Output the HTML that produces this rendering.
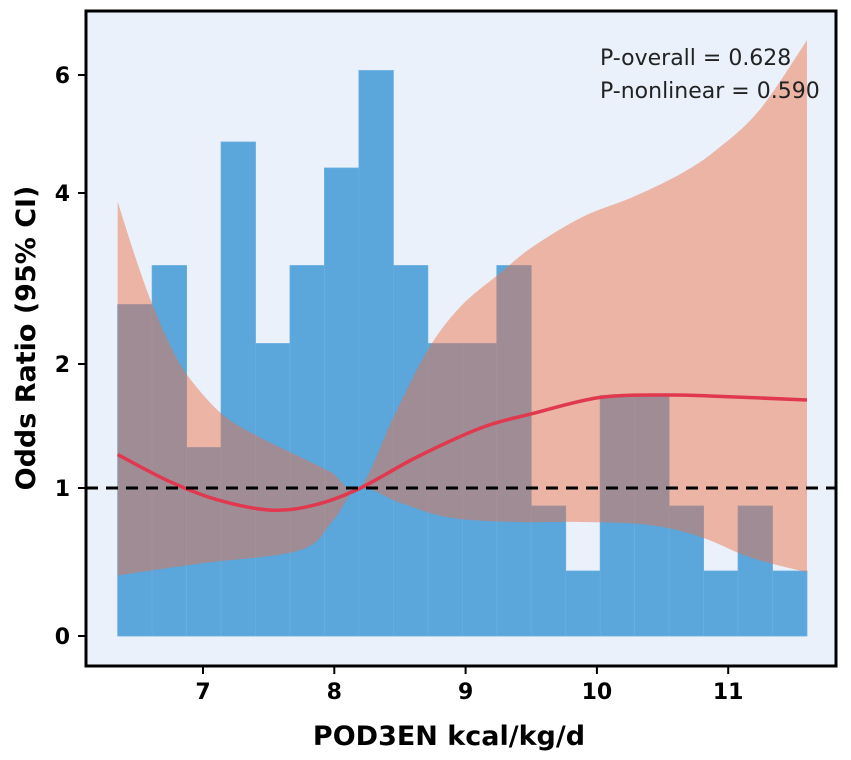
<!DOCTYPE html>
<html><head><meta charset="utf-8"><style>
html,body{margin:0;padding:0;background:#fff;}
svg{display:block;font-family:"DejaVu Sans","Liberation Sans",sans-serif;}
</style></head><body>
<svg id="chart" width="851" height="760">
<rect x="86" y="11" width="750" height="655" fill="#eaf1fa"/>
<g id="bars"></g><g id="band"></g><g id="line"></g>
<line x1="86" x2="836" y1="488" y2="488" stroke="#000" stroke-width="3" stroke-dasharray="12,8" id="refline"/>
<rect x="86" y="11" width="750" height="655" fill="none" stroke="#000" stroke-width="3"/>
<g id="axes"></g>
<text x="600" y="65" font-size="22" fill="#222">P-overall = 0.628</text>
<text x="600" y="98" font-size="22" fill="#222">P-nonlinear = 0.590</text>
<text x="449" y="745" font-size="27" font-weight="bold" text-anchor="middle">POD3EN kcal/kg/d</text>
<text transform="translate(35,338) rotate(-90)" font-size="27" font-weight="bold" text-anchor="middle">Odds Ratio (95% CI)</text>
</svg>
<script>
const binStart=[6.35,6.6125,6.875,7.1375,7.4,7.6625,7.925,8.1875,8.45,8.7125,8.975,9.2375,9.5,9.7625,10.025,10.2875,10.55,10.8125,11.075,11.3375];
const binCounts=[5.1,5.7,2.9,7.6,4.5,5.7,7.2,8.7,5.7,4.5,4.5,5.7,2,1,3.7,3.7,2,1,2,1];
const binWidth=0.2625;
const curveX=[6.35,6.73,7.11,7.53,7.87,8.20,8.63,9.13,9.51,10.02,10.53,10.91,11.6];
const curveOR=[1.27,1.06,0.92,0.85,0.89,1.0,1.25,1.49,1.60,1.73,1.75,1.74,1.71];
const upperX=[6.35,6.48,6.61,6.75,6.88,7.14,7.43,7.74,7.97,8.19,8.45,8.71,8.96,9.26,9.51,9.89,10.27,10.65,10.91,11.24,11.6];
const upperOR=[3.90,3.27,2.71,2.22,1.91,1.60,1.41,1.25,1.13,1.0,1.57,2.16,2.67,3.06,3.37,3.72,3.95,4.34,4.73,5.41,6.59];
const lowerX=[6.35,6.98,7.74,7.99,8.19,8.50,8.88,9.39,9.89,10.40,10.79,11.17,11.6];
const lowerOR=[0.41,0.49,0.58,0.78,1.0,0.90,0.80,0.77,0.77,0.75,0.67,0.53,0.43];
const xTicks=[7,8,9,10,11];
const yTicks=[0,1,2,4,6];
const yTickPx=[636,488,364,193,75];
const xs=v=>203+(v-7)*131.3;
function ys(o){for(let i=0;i<yTicks.length-1;i++){if(o<=yTicks[i+1]||i==yTicks.length-2){return yTickPx[i]+(o-yTicks[i])/(yTicks[i+1]-yTicks[i])*(yTickPx[i+1]-yTickPx[i]);}}}
const cy=c=>636-c*65;
const NS="http://www.w3.org/2000/svg";
function mk(t,a,p){const e=document.createElementNS(NS,t);for(const k in a)e.setAttribute(k,a[k]);p.appendChild(e);return e;}
function smooth(X,Y){const P=X.map((x,i)=>[xs(x),ys(Y[i])]);let d="M"+P[0];for(let i=0;i<P.length-1;i++){const p0=P[Math.max(0,i-1)],p1=P[i],p2=P[i+1],p3=P[Math.min(P.length-1,i+2)];const c1=[p1[0]+(p2[0]-p0[0])/6,p1[1]+(p2[1]-p0[1])/6],c2=[p2[0]-(p3[0]-p1[0])/6,p2[1]-(p3[1]-p1[1])/6];d+=" C"+c1+" "+c2+" "+p2;}return d;}
const bg=document.getElementById('bars');
binCounts.forEach((c,i)=>{const x0=xs(binStart[i]),x1=xs(binStart[i]+binWidth);
const r=mk('rect',{x:x0,y:cy(c),width:x1-x0,height:636-cy(c),fill:'#5ba6da',stroke:'#6aaee0','stroke-width':0.8},bg);

});
const up=smooth(upperX,upperOR);
const lo=smooth(lowerX.slice().reverse(),lowerOR.slice().reverse());
const band=mk('path',{d:up+" L"+lo.slice(1)+" Z",fill:'rgb(236,112,73)','fill-opacity':0.48},document.getElementById('band'));


const ln=mk('path',{d:smooth(curveX,curveOR),fill:'none',stroke:'#e0384f','stroke-width':3.5},document.getElementById('line'));


const ax=document.getElementById('axes');
xTicks.forEach(t=>{const x=xs(t);
const l=mk('line',{x1:x,x2:x,y1:666,y2:674,stroke:'#000','stroke-width':2},ax);


const tx=mk('text',{x:x,y:699,'font-size':22,'font-weight':'bold','text-anchor':'middle'},ax);tx.textContent=t;

});
yTicks.forEach((t,i)=>{const y=yTickPx[i];
const l=mk('line',{x1:78,x2:86,y1:y,y2:y,stroke:'#000','stroke-width':2},ax);


const tx=mk('text',{x:70,y:y+8,'font-size':22,'font-weight':'bold','text-anchor':'end'},ax);tx.textContent=t;

});
</script>
</body></html>
